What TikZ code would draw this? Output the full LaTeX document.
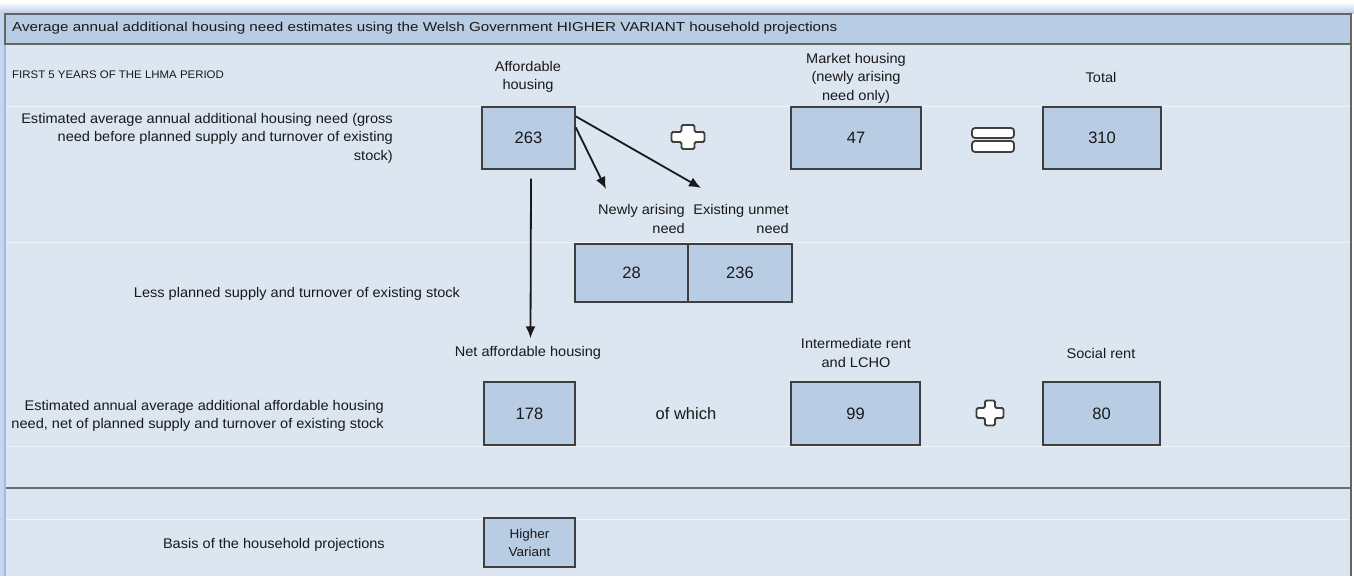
\documentclass[tikz,border=0pt]{standalone}
\usepackage{fontspec}
\setmainfont{Liberation Sans}
\newfontfamily\labelfont[FakeStretch=1.04]{Liberation Sans}
\newfontfamily\titlefont[FakeStretch=1.17]{Liberation Sans}
\usetikzlibrary{shapes.geometric, arrows, arrows.meta}
\definecolor{bodyblue}{HTML}{DCE6F1}
\definecolor{headblue}{HTML}{B8CCE4}
\definecolor{boxblue}{HTML}{B8CCE4}
\definecolor{framegrey}{HTML}{3F3F3F}
\definecolor{glowblue}{HTML}{9DB9E4}

\begin{document}
\begin{tikzpicture}[x=1pt, y=-1pt, >={Latex[length=12pt, width=10pt]},
        numbox/.style={draw=framegrey, fill=boxblue, line width=1.4pt, inner sep=0pt,
            font=\fontsize{16.5}{19}\selectfont, text=black!90},
        lbl/.style={font=\labelfont\fontsize{14}{18.5}\selectfont, text=black!90, inner sep=0pt},
        smalllbl/.style={font=\labelfont\fontsize{11}{13}\selectfont, text=black!90, inner sep=0pt},
        sym/.style={fill=white, draw=framegrey, line width=1.8pt, rounded corners=1.5pt},
        flow/.style={->, line width=1.8pt, black!90}]
        \useasboundingbox (0,0) rectangle (1354,576);

        % Draw the frame, the glow round it and the header bar
        \fill[white] (0,0) rectangle (1354,576);
        \shade[top color=white, bottom color=glowblue!70] (0,2) rectangle (1354,13);
        \fill[glowblue!60] (0,13) rectangle (5,576);
        \fill[bodyblue] (5,13) rectangle (1352,576);
        \draw[glowblue, line width=1.5pt] (5,576) -- (5,13);
        \draw[fill=headblue, draw=framegrey!80, line width=1.2pt] (5,14) rectangle (1351,44);
        \draw[framegrey!80, line width=1.2pt] (1351,44) -- (1351,576);
        \node[lbl, anchor=west, font=\titlefont\fontsize{13}{15}\selectfont] (title) at (12,28)
            {Average annual additional housing need estimates using the Welsh Government HIGHER VARIANT household projections};

        % Row lines
        \foreach \y in {106,242,446,519}
            \draw[white!55!bodyblue, line width=1pt] (6,\y) -- (1350,\y);
        \draw[gray!85!black, line width=2pt] (6,488) -- (1350,488);

        % Column headings
        \node[smalllbl, anchor=west] (period) at (12,75) {FIRST 5 YEARS OF THE LHMA PERIOD};
        \node[lbl, align=center] (affhead) at (528,77) {Affordable\\housing};
        \node[lbl, align=center] (mkthead) at (856,78) {Market housing\\(newly arising\\need only)};
        \node[lbl] (tothead) at (1101,77) {Total};

        % Gross need
        \node[lbl, align=right, anchor=east] (grosslbl) at (393,138)
            {Estimated average annual additional housing need (gross\\need before planned supply and turnover of existing\\stock)};
        \node[numbox, minimum width=93, minimum height=62] (aff) at (528.5,138) {263};
        \node[numbox, minimum width=130, minimum height=62] (mkt) at (856,138) {47};
        \node[numbox, minimum width=118, minimum height=62] (tot) at (1102,138) {310};
        \draw[sym, shift={(688,137)}] (-6.5,-12) -- (6.5,-12) -- (6.5,-5) -- (16.5,-5) -- (16.5,5)
            -- (6.5,5) -- (6.5,12) -- (-6.5,12) -- (-6.5,5) -- (-16.5,5) -- (-16.5,-5) -- (-6.5,-5) -- cycle;
        \draw[sym, rounded corners=3pt] (972,128) rectangle (1014,138);
        \draw[sym, rounded corners=3pt] (972,141) rectangle (1014,152);

        % Split of the affordable need
        \coordinate (newtip) at (606,189);
        \coordinate (unmettip) at (701,188);
        \draw[flow] ([yshift=-21pt]aff.north east) -- (newtip);
        \draw[flow] ([yshift=-10pt]aff.north east) -- (unmettip);
        \node[lbl, align=right, anchor=east] (newlbl) at (685,219) {Newly arising\\need};
        \node[lbl, align=right, anchor=east] (unmetlbl) at (789,219) {Existing unmet\\need};
        \node[numbox, minimum width=113, minimum height=58] (newneed) at (631.5,273) {28};
        \node[numbox, minimum width=104, minimum height=58] (unmet) at (740,273) {236};
        \node[lbl] (lesslbl) at (297,294) {Less planned supply and turnover of existing stock};

        % Net need
        \node[lbl] (nethead) at (528,353) {Net affordable housing};
        \node[lbl, align=center] (inthead) at (856,353) {Intermediate rent\\and LCHO};
        \node[lbl] (socialhead) at (1101,353) {Social rent};
        \draw[flow] ([xshift=2.5pt, yshift=-9pt]aff.south) -- ([xshift=2.5pt, yshift=8pt]nethead.north);
        \node[lbl, align=right, anchor=east] (netlbl) at (384,416)
            {Estimated annual average additional affordable housing\\need, net of planned supply and turnover of existing stock};
        \node[numbox, minimum width=91, minimum height=63] (net) at (529.5,413.5) {178};
        \node[lbl, font=\fontsize{16.5}{19}\selectfont] (ofwhich) at (686,414) {of which};
        \node[numbox, minimum width=129, minimum height=63] (inter) at (855.5,413.5) {99};
        \node[numbox, minimum width=117, minimum height=63] (social) at (1101.5,413.5) {80};
        \draw[sym, shift={(990,413)}] (-5,-12.5) -- (5,-12.5) -- (5,-5) -- (13.5,-5) -- (13.5,5)
            -- (5,5) -- (5,12.5) -- (-5,12.5) -- (-5,5) -- (-13.5,5) -- (-13.5,-5) -- (-5,-5) -- cycle;

        % Basis
        \node[lbl, anchor=east] (basislbl) at (385,545) {Basis of the household projections};
        \node[numbox, minimum width=91, minimum height=49, align=center,
            font=\labelfont\fontsize{13}{18}\selectfont] (basis) at (529.5,542.5) {Higher\\Variant};
    \end{tikzpicture}
\end{document}
